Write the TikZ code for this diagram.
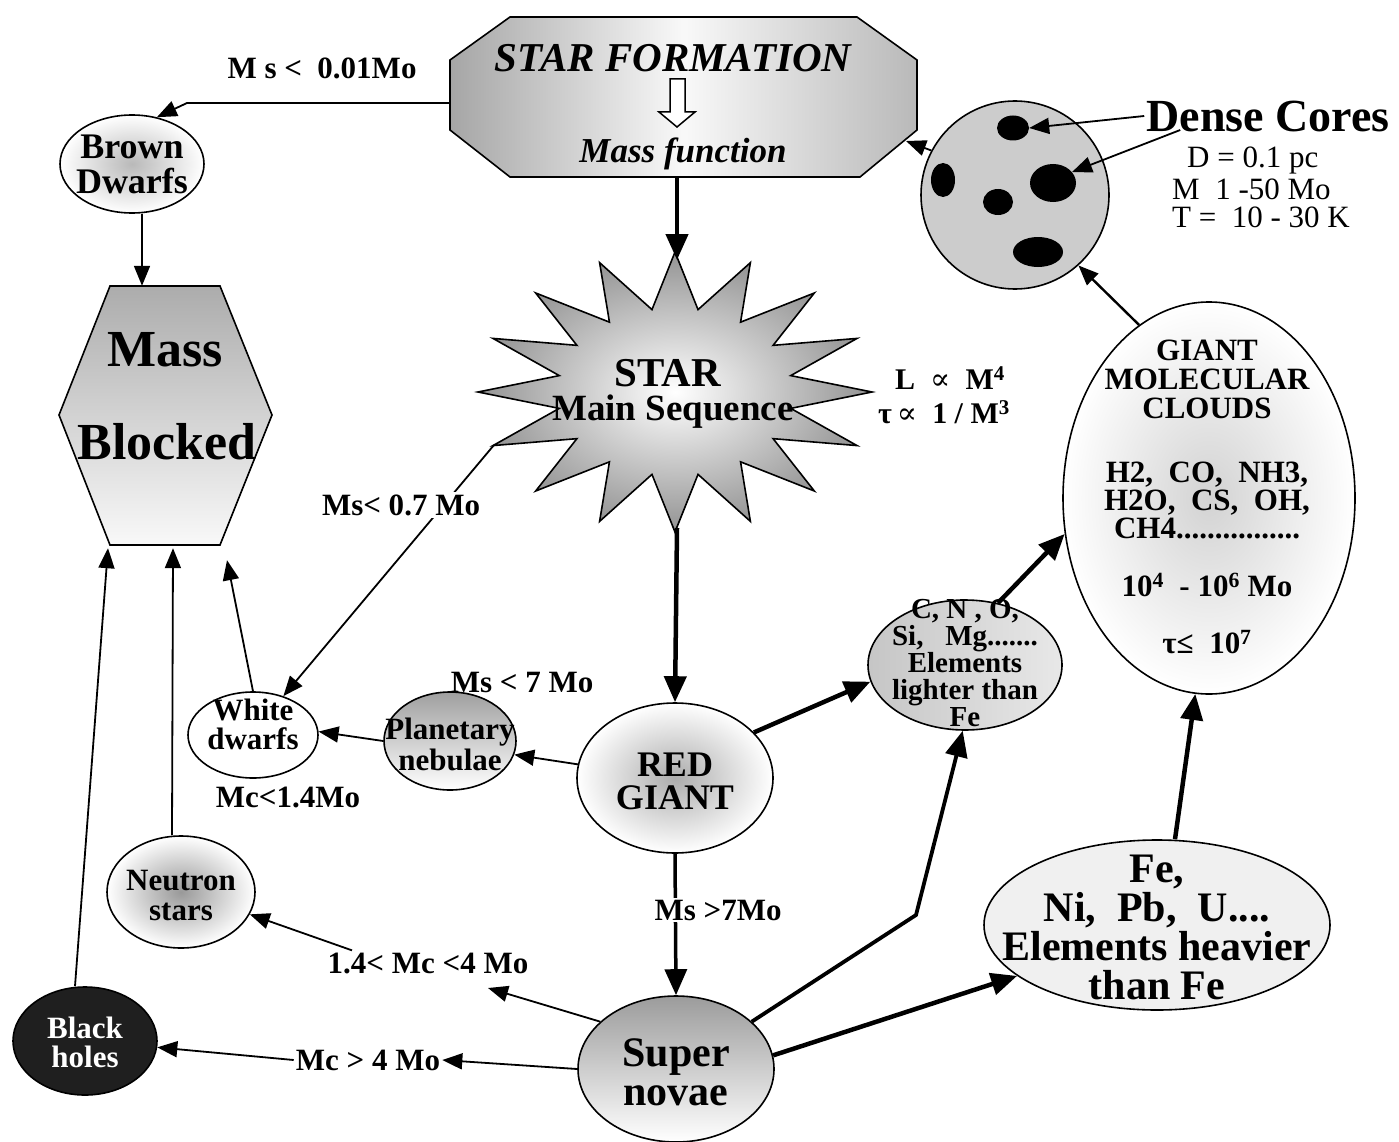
\documentclass[tikz,border=0pt]{standalone}
\usepackage{fontspec}
\setmainfont{Liberation Serif}
\newfontfamily\symfnt{DejaVu Serif}
\newcommand\myfs[2]{\fontsize{#1}{#2}\selectfont}
\usetikzlibrary{arrows.meta,shapes.geometric}
\begin{document}
\begin{tikzpicture}[x=1pt,y=-1pt,
  thinl/.style={line width=1.8pt},
  thickl/.style={line width=4.5pt},
  tip/.style={-{Triangle[length=20pt,width=16pt]}},
  bigtip/.style={-{Triangle[length=26pt,width=22pt]}},
  shp/.style={draw, line width=1.6pt, inner sep=0pt},
  ell/.style={shp, ellipse},
  blob/.style={ellipse, fill=black, inner sep=0pt},
  lab/.style={font=\bfseries\myfs{31}{31}, inner sep=2pt},
  txt/.style={align=center, inner sep=0pt},
  anchorbox/.style={inner sep=0pt}]
\useasboundingbox (0,0) rectangle (1399,1142);
\fill[white] (0,0) rectangle (1399,1142);

% ---------- STAR FORMATION ----------
\draw[line width=1.6pt, left color=gray!70, right color=gray!55, middle color=gray!5]
  (510,17) -- (857,17) -- (917,60) -- (917,130) -- (860,177) -- (510,177) -- (450,130) -- (450,60) -- cycle;
\node[anchorbox, minimum width=467pt, minimum height=160pt] (sf) at (683.5,97) {};
\node[font=\bfseries\itshape\myfs{41}{41}] (sft) at (673,58) {STAR FORMATION};
\node[font=\bfseries\itshape\myfs{35}{35}] (mft) at (683,154) {Mass function};
\draw[line width=1.5pt, fill=white] (670,79) -- (685,79) -- (685,112) -- (695,112) -- (677,127) -- (659,112) -- (670,112) -- cycle;

% ---------- Brown dwarfs ----------
\node[ell, minimum width=144pt, minimum height=98pt, inner color=gray!55, outer color=white] (bd) at (132,164) {};
\node[txt, font=\bfseries\myfs{36}{35}] (bdt) at (132,164) {Brown\\Dwarfs};
\node[lab] (l001) at (322,68) {M s <\ \ 0.01Mo};
\coordinate (bdk) at (187,103);
\draw[thinl, tip] ([yshift=-6pt]sf.west) -- (bdk) -- (bd.62);

% ---------- Mass blocked ----------
\draw[line width=1.6pt, top color=gray!65, bottom color=gray!5]
  (110,286) -- (220,286) -- (272,415) -- (220,545) -- (110,545) -- (59,415) -- cycle;
\node[anchorbox, minimum width=213pt, minimum height=259pt] (mb) at (165.5,415.5) {};
\node[font=\bfseries\myfs{52}{52}] (mbt1) at (165,350) {Mass};
\node[font=\bfseries\myfs{52}{52}] (mbt2) at (167,442) {Blocked};
\draw[thinl, tip] ([xshift=10pt]bd.south) -- ([xshift=-23.5pt]mb.north);

% ---------- Dense cores ----------
\node[shp, circle, minimum size=188pt, fill=gray!40] (dc) at (1015,195) {};
\node[blob, minimum width=32pt, minimum height=25pt] (b1) at (1013,128) {};
\node[blob, minimum width=24pt, minimum height=34pt] (b2) at (943,180) {};
\node[blob, minimum width=30pt, minimum height=26pt] (b3) at (998,202) {};
\node[blob, minimum width=46pt, minimum height=38pt] (b4) at (1053,183) {};
\node[blob, minimum width=50pt, minimum height=30pt] (b5) at (1038,252) {};
\node[font=\bfseries\myfs{46}{46}, inner sep=0pt] (dct) at (1268,116) {Dense Cores};
\draw[thinl, tip] ([xshift=-2pt]dct.west) -- (b1.east);
\draw[thinl, tip] ([xshift=34pt,yshift=-14pt]dct.west) -- (b4.30);
\node[anchor=west, inner sep=0pt, font=\myfs{31}{31}] (dp1) at (1187,160) {D = 0.1 pc};
\node[anchor=west, inner sep=0pt, font=\myfs{31}{31}] (dp2) at (1172,189) {M\ \ 1 -50 Mo};
\node[anchor=west, inner sep=0pt, font=\myfs{31}{31}] (dp3) at (1172,217) {T =\ \ 10 - 30 K};
\coordinate (sfR) at (906,141);
\draw[thinl, tip] (dc.152) -- (sfR);

% ---------- STAR ----------
\draw[line width=1.6pt, inner color=white, outer color=gray!85]
  plot[samples at={0,...,31}, variable=\k]
  ({675+ifthenelse(mod(\k,2)==0,197,118)*cos(90+\k*11.25)},
   {392-ifthenelse(mod(\k,2)==0,140,84)*sin(90+\k*11.25)}) -- cycle;
\coordinate (stT) at (677,260);
\coordinate (stB) at (677,528);
\coordinate (stL) at (494,445);
\node[font=\bfseries\myfs{41}{41}] (stt1) at (668,373) {STAR};
\node[font=\bfseries\myfs{37}{37}] (stt2) at (673,412) {Main Sequence};
\node[font=\bfseries\myfs{30}{30}] (lm1) at (950,378) {L\ \ {\symfnt\mdseries ∝}\ \ M\textsuperscript{4}};
\node[font=\bfseries\myfs{30}{30}] (lm2) at (944,412) {τ\,{\symfnt\mdseries ∝}\ \ 1 / M\textsuperscript{3}};
\draw[thickl, bigtip] ([xshift=-6.5pt]sf.south) -- (stT);

% ---------- Giant molecular clouds ----------
\node[ell, minimum width=292pt, minimum height=392pt, inner color=gray!35, outer color=white] (gmc) at (1209,498) {};
\node[txt, font=\bfseries\myfs{31}{29}] (g1) at (1207,379) {GIANT\\MOLECULAR\\CLOUDS};
\node[txt, font=\bfseries\myfs{31}{28}] (g2) at (1207,500) {H2,\ \ CO,\ \ NH3,\\H2O,\ \ CS,\ \ OH,\\CH4................};
\node[font=\bfseries\myfs{31}{31}, inner sep=0pt] (g3) at (1207,585) {10\textsuperscript{4}\ \ - 10\textsuperscript{6} Mo};
\node[font=\bfseries\myfs{31}{31}, inner sep=0pt] (g4) at (1207,642) {τ≤\ \ 10\textsuperscript{7}};
\draw[line width=2.4pt, tip] (gmc.112) -- (dc.-48);

% ---------- Red giant & co ----------
\node[ell, minimum width=196pt, minimum height=150pt, inner color=gray!65, outer color=white] (rg) at (675,778) {};
\node[txt, font=\bfseries\myfs{36}{33}] (rgt) at (675,781) {RED\\GIANT};
\draw[thickl, bigtip] (stB) -- (rg.north);

\node[ell, minimum width=132pt, minimum height=98pt, top color=gray!75, bottom color=white] (pn) at (450,741) {};
\node[txt, font=\bfseries\myfs{31}{31}] (pnt) at (450,744) {Planetary\\nebulae};
\node[ell, minimum width=130pt, minimum height=86pt, fill=white] (wd) at (253,735) {};
\node[txt, font=\bfseries\myfs{31}{29}] (wdt) at (253,724) {White\\dwarfs};
\node[lab] (l7) at (522,682) {Ms < 7 Mo};
\node[lab] (l14) at (288,797) {Mc<1.4Mo};
\draw[thinl, tip] (rg.172) -- (pn.-12);
\draw[thinl, tip] (pn.west) -- (wd.3);
\draw[thinl, tip] (stL) -- (wd.52);
\node[lab, fill=white] (l07) at (401,505) {Ms< 0.7 Mo};
\draw[thinl, tip] (wd.north) -- ([xshift=61.5pt,yshift=-15pt]mb.south);

% ---------- CNO ----------
\node[ell, minimum width=194pt, minimum height=130pt, left color=gray!45, right color=gray!18] (cno) at (965,665) {};
\node[txt, font=\bfseries\myfs{29}{27}] (cnot) at (965,663) {C, N , O,\\Si,\ \ \ Mg.......\\Elements\\lighter than\\Fe};
\draw[thickl, bigtip] (rg.30) -- (cno.190);
\draw[thickl, bigtip] (cno.62) -- (gmc.194);

% ---------- Neutron stars, black holes ----------
\node[ell, minimum width=148pt, minimum height=112pt, inner color=gray!80, outer color=white] (ns) at (181,892) {};
\node[txt, font=\bfseries\myfs{31}{30}] (nst) at (181,895) {Neutron\\stars};
\node[ell, minimum width=144pt, minimum height=108pt, fill=black!88] (bh) at (85,1041) {};
\node[txt, text=white, font=\bfseries\myfs{31}{29}] (bht) at (85,1042) {Black\\holes};
\draw[thinl, tip] ([xshift=-9pt]ns.north) -- ([xshift=7.5pt,yshift=-3pt]mb.south);
\draw[thinl, tip] ([xshift=-10pt]bh.north) -- ([xshift=-57.5pt,yshift=-3pt]mb.south);

% ---------- Supernovae ----------
\node[ell, minimum width=196pt, minimum height=146pt, top color=gray!78, bottom color=white] (sn) at (676,1069) {};
\node[txt, font=\bfseries\myfs{42}{39}] (snt) at (676,1072) {Super\\novae};
\draw[line width=3.5pt, bigtip] (rg.south) -- (sn.north);
\node[lab, fill=white] (l7b) at (718,910) {Ms >7Mo};

\node[lab] (l4) at (428,963) {1.4< Mc <4 Mo};
\coordinate (t14) at (488,988);
\draw[thinl, tip] (sn.148) -- (t14);
\draw[thinl, tip] ([xshift=-76pt]l4.north) -- (ns.-18);
\node[lab] (l4b) at (368,1060) {Mc > 4 Mo};
\draw[thinl, tip] (sn.west) -- (l4b.east);
\draw[thinl, tip] (l4b.west) -- (bh.-5);

% ---------- Fe ----------
\node[ell, minimum width=346pt, minimum height=170pt, fill=gray!12] (fe) at (1157,925) {};
\node[txt, font=\bfseries\myfs{42}{39}] (fet) at (1157,927) {Fe,\\Ni,\ \ Pb,\ \ U....\\Elements heavier\\than Fe};
\coordinate (snk) at (916,915);
\draw[line width=3.8pt, bigtip] (sn.32) -- (snk) -- (cno.-92);
\draw[thickl, bigtip] (sn.8) -- (fe.200);
\draw[thickl, bigtip] ([xshift=18pt]fe.north) -- (gmc.-94);
\end{tikzpicture}
\end{document}
